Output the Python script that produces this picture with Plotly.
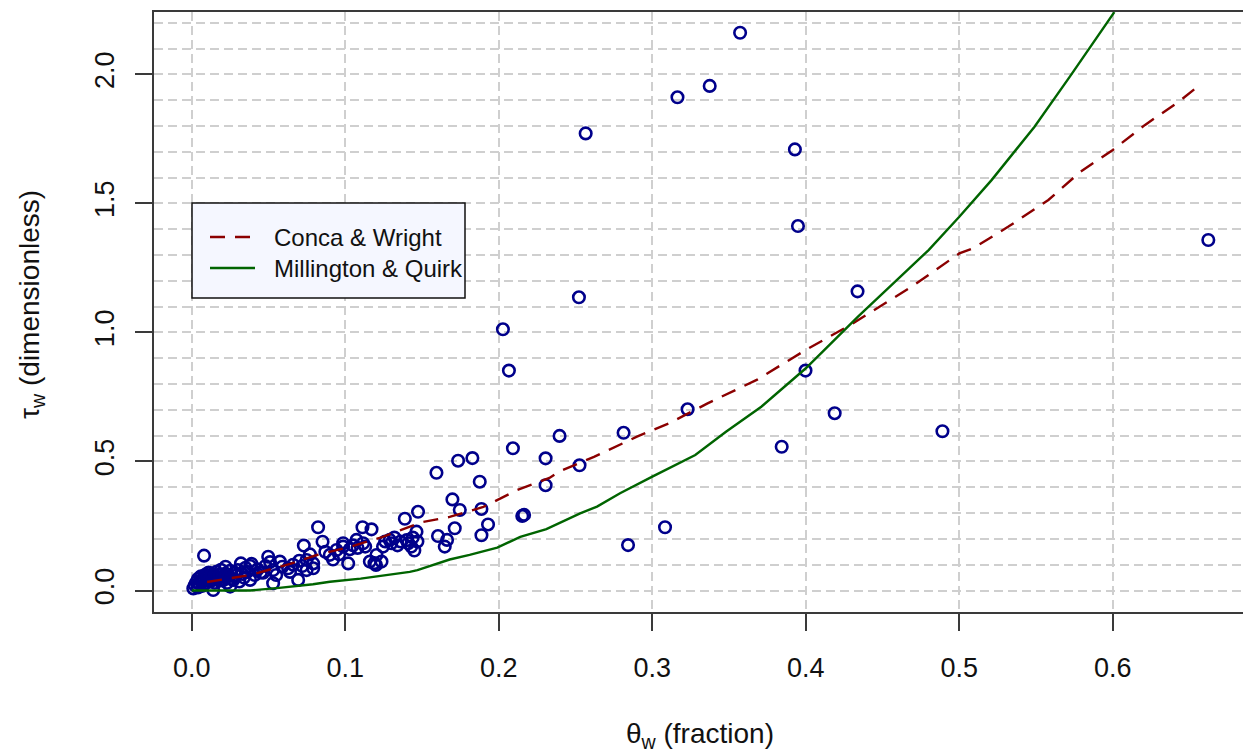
import plotly.graph_objects as go

# Measured soil samples: volumetric water content vs. water-phase tortuosity
theta_w = [
    0.001, 0.002, 0.003, 0.004, 0.004, 0.005, 0.006, 0.006, 0.007, 0.007,
    0.008, 0.008, 0.009, 0.009, 0.010, 0.010, 0.011, 0.012, 0.012, 0.013,
    0.014, 0.014, 0.015, 0.015, 0.016, 0.017, 0.018, 0.018, 0.019, 0.020,
    0.021, 0.022, 0.022, 0.023, 0.024, 0.025, 0.025, 0.026, 0.027, 0.028,
    0.029, 0.030, 0.031, 0.032, 0.033, 0.034, 0.035, 0.036, 0.038, 0.038,
    0.039, 0.041, 0.043, 0.045,
    0.0465, 0.048, 0.0498, 0.051, 0.053, 0.053, 0.055, 0.0574, 0.059, 0.0628,
    0.064, 0.066, 0.0693, 0.070, 0.072, 0.073, 0.0748, 0.0748, 0.077, 0.0791,
    0.0791, 0.0823, 0.0852, 0.087, 0.0899, 0.092, 0.0943, 0.096, 0.0986, 0.0986,
    0.1019, 0.103, 0.105,
    0.1073, 0.108, 0.1112, 0.1116, 0.113, 0.116, 0.1171, 0.119, 0.1203, 0.120,
    0.1236, 0.1246, 0.126, 0.129, 0.130, 0.132, 0.134, 0.136, 0.1388, 0.140,
    0.141, 0.143, 0.144, 0.145, 0.1464, 0.1474, 0.147,
    0.1594, 0.1604, 0.1648, 0.1663, 0.1698, 0.1713, 0.1735, 0.1746, 0.1828, 0.1876,
    0.1887, 0.1887, 0.193,
    0.2027, 0.2066, 0.2092, 0.2153, 0.2165, 0.2305, 0.2305, 0.2396, 0.2522, 0.2526,
    0.2566,
    0.2813, 0.2842, 0.3083, 0.3164, 0.3230, 0.3374, 0.3572, 0.3843, 0.3929, 0.3949,
    0.3998, 0.4188, 0.4337, 0.4890, 0.6622,
]
tau_w = [
    0.008, 0.020, 0.032, 0.012, 0.045, 0.026, 0.040, 0.055, 0.018, 0.033,
    0.135, 0.048, 0.062, 0.028, 0.040, 0.055, 0.070, 0.035, 0.050, 0.062,
    0.002, 0.044, 0.030, 0.058, 0.072, 0.048, 0.038, 0.062, 0.080, 0.053,
    0.042, 0.092, 0.066, 0.030, 0.055, 0.015, 0.076, 0.045, 0.041, 0.068,
    0.058, 0.079, 0.035, 0.105, 0.064, 0.050, 0.088, 0.072, 0.095, 0.041,
    0.103, 0.060, 0.082, 0.070,
    0.069, 0.095, 0.131, 0.110, 0.028, 0.079, 0.060, 0.112, 0.092, 0.086,
    0.072, 0.100, 0.041, 0.115, 0.095, 0.174, 0.079, 0.118, 0.140, 0.105,
    0.086, 0.245, 0.189, 0.150, 0.138, 0.120, 0.157, 0.140, 0.170, 0.183,
    0.105, 0.160, 0.175,
    0.196, 0.165, 0.245, 0.183, 0.170, 0.112, 0.237, 0.106, 0.1375, 0.099,
    0.112, 0.170, 0.190, 0.196, 0.183, 0.205, 0.175, 0.190, 0.278, 0.195,
    0.183, 0.170, 0.205, 0.155, 0.228, 0.305, 0.190,
    0.456, 0.211, 0.170, 0.196, 0.353, 0.241, 0.503, 0.312, 0.513, 0.4215,
    0.316, 0.214, 0.256,
    1.012, 0.852, 0.551, 0.289, 0.293, 0.512, 0.408, 0.599, 1.136, 0.485,
    1.771,
    0.611, 0.176, 0.245, 1.911, 0.702, 1.955, 2.161, 0.557, 1.709, 1.412,
    0.852, 0.687, 1.159, 0.617, 1.358,
]

# Conca & Wright model evaluated at the sample water contents
cw_theta = [0.010, 0.038, 0.064, 0.0815, 0.103, 0.124, 0.150, 0.168, 0.190, 0.212,
            0.233, 0.239, 0.262, 0.290, 0.311, 0.336, 0.368, 0.400, 0.429, 0.469,
            0.500, 0.509, 0.532, 0.558, 0.579, 0.600, 0.621, 0.637, 0.643, 0.658]
cw_tau = [0.033, 0.060, 0.103, 0.1375, 0.169, 0.207, 0.265, 0.285, 0.324, 0.389,
          0.436, 0.460, 0.518, 0.596, 0.648, 0.725, 0.816, 0.932, 1.029, 1.177,
          1.306, 1.326, 1.410, 1.513, 1.623, 1.707, 1.804, 1.868, 1.894, 1.965]

# Millington & Quirk model evaluated at the sample water contents
mq_theta = [0.0, 0.038, 0.057, 0.079, 0.090, 0.100, 0.110, 0.142, 0.147, 0.168,
            0.181, 0.199, 0.214, 0.231, 0.253, 0.264, 0.279, 0.300, 0.328, 0.348,
            0.371, 0.400, 0.434, 0.457, 0.480, 0.500, 0.521, 0.549, 0.572, 0.601]
mq_tau = [0.0, 0.0, 0.010, 0.024, 0.034, 0.041, 0.046, 0.072, 0.079, 0.120,
          0.138, 0.166, 0.208, 0.238, 0.299, 0.325, 0.377, 0.441, 0.525, 0.615,
          0.712, 0.861, 1.061, 1.190, 1.319, 1.448, 1.590, 1.797, 1.991, 2.241]

y_ticks = [0.0, 0.5, 1.0, 1.5, 2.0]
x_ticks = [0.0, 0.1, 0.2, 0.3, 0.4, 0.5, 0.6]

NAVY = "#00008B"
DARKRED = "#8B0000"
DARKGREEN = "#006400"
GRID = "#CFCFCF"
AXIS = "#3A3A3A"
FONT = "Liberation Sans, Arial, sans-serif"

W, H = 1243, 754
L, R, T, B = 154, 0, 12, 142
PW, PH = W - L - R, H - T - B


def px(x):
    return (x - L) / PW


def py(y):
    return (H - B - y) / PH


fig = go.Figure()

fig.add_trace(go.Scatter(
    x=theta_w, y=tau_w, mode="markers", name="measured",
    marker=dict(symbol="circle-open", size=11.5, color=NAVY,
                line=dict(color=NAVY, width=2.6)),
    showlegend=False,
))
fig.add_trace(go.Scatter(
    x=cw_theta, y=cw_tau, mode="lines", name="Conca & Wright",
    line=dict(color=DARKRED, width=2.4, dash="15px,10px"),
    showlegend=False,
))
fig.add_trace(go.Scatter(
    x=mq_theta, y=mq_tau, mode="lines", name="Millington & Quirk",
    line=dict(color=DARKGREEN, width=2.4),
    showlegend=False,
))

# legend box
lx0, lx1, ly0, ly1 = 192, 465, 203, 298
shapes = [
    dict(type="rect", xref="paper", yref="paper",
         x0=px(lx0), x1=px(lx1), y0=py(ly1), y1=py(ly0),
         fillcolor="#F5F7FF", line=dict(color="#111111", width=1.5), layer="above"),
    dict(type="line", xref="paper", yref="paper",
         x0=px(210), x1=px(255), y0=py(237), y1=py(237),
         line=dict(color=DARKRED, width=2.4, dash="15px,10px"), layer="above"),
    dict(type="line", xref="paper", yref="paper",
         x0=px(210), x1=px(255), y0=py(268), y1=py(268),
         line=dict(color=DARKGREEN, width=2.4), layer="above"),
]

annotations = [
    dict(text="Conca & Wright", xref="paper", yref="paper",
         x=px(272), y=py(237), xanchor="left", yanchor="middle",
         showarrow=False, font=dict(size=24, color="#111111", family=FONT)),
    dict(text="Millington & Quirk", xref="paper", yref="paper",
         x=px(272), y=py(268), xanchor="left", yanchor="middle",
         showarrow=False, font=dict(size=24, color="#111111", family=FONT)),
    dict(text="θ<sub>w</sub> (fraction)", xref="paper", yref="paper",
         x=px(700), y=py(736), xanchor="center", yanchor="middle",
         showarrow=False, font=dict(size=28, color="#111111", family=FONT)),
    dict(text="τ<sub>w</sub> (dimensionless)", xref="paper", yref="paper",
         x=px(31), y=py(305), xanchor="center", yanchor="middle", textangle=-90,
         showarrow=False, font=dict(size=28, color="#111111", family=FONT)),
]

fig.update_layout(
    width=W, height=H,
    margin=dict(l=L, r=R, t=T, b=B, pad=0),
    paper_bgcolor="white", plot_bgcolor="white",
    font=dict(family=FONT, size=27, color="#111111"),
    shapes=shapes, annotations=annotations,
    showlegend=False,
)

fig.update_xaxes(
    range=[-0.0246, 0.6848], tickvals=x_ticks,
    ticktext=[f"{v:.1f}" for v in x_ticks],
    showline=True, linecolor=AXIS, linewidth=2, mirror=True,
    ticks="outside", ticklen=17, tickwidth=1.5, tickcolor=AXIS,
    ticklabelstandoff=14,
    showgrid=True, gridcolor=GRID, gridwidth=1.5, griddash="9px,5px",
    zeroline=False,
)
fig.update_yaxes(
    range=[-0.0833, 2.2414], tickvals=y_ticks,
    ticktext=[f"{v:.1f}" for v in y_ticks],
    tickangle=-90,
    showline=True, linecolor=AXIS, linewidth=2, mirror=False,
    ticks="outside", ticklen=17, tickwidth=1.5, tickcolor=AXIS,
    ticklabelstandoff=10,
    showgrid=True, gridcolor=GRID, gridwidth=1.5, griddash="9px,5px",
    minor=dict(dtick=0.1, tick0=0, showgrid=True, gridcolor=GRID,
               gridwidth=1.5, griddash="9px,5px", ticks=""),
    zeroline=False,
)

fig.write_html("out.html")
